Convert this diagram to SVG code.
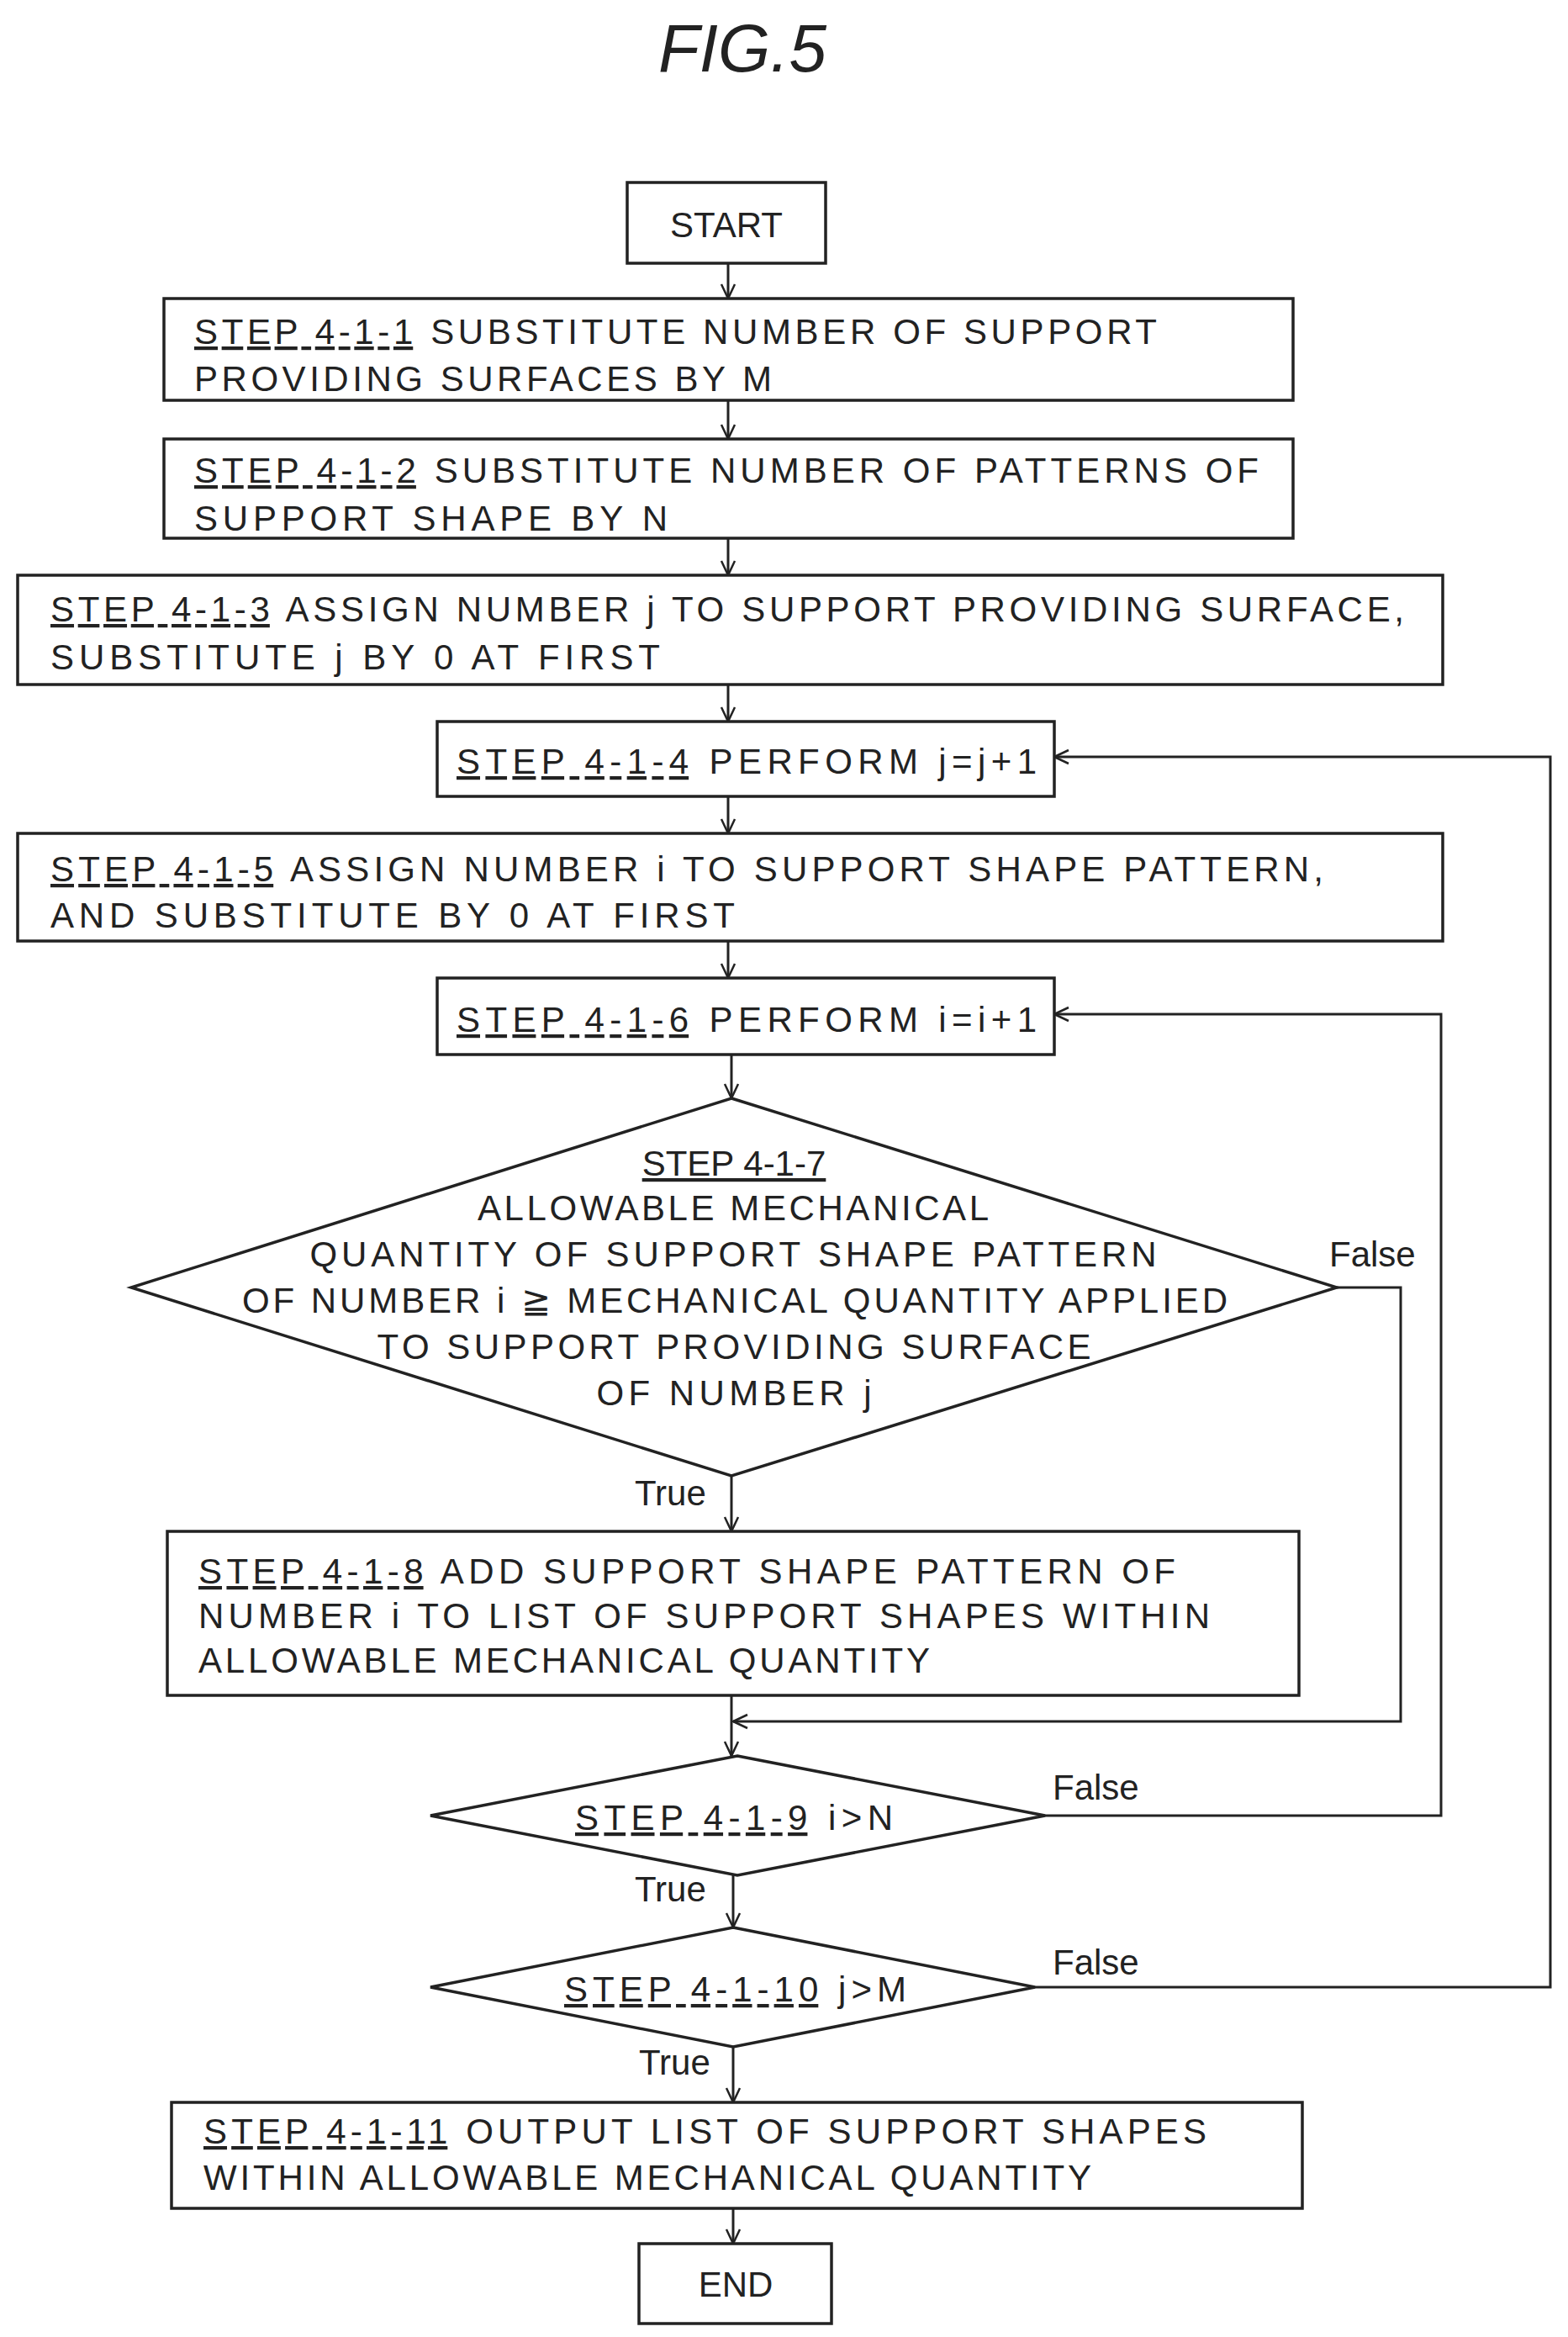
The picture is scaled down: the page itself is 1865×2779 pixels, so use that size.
<svg xmlns="http://www.w3.org/2000/svg" width="1865" height="2779" viewBox="0 0 1865 2779">
<style>
.b{fill:#fff;stroke:#222;stroke-width:3.5}
.t{font-family:"Liberation Sans",Arial,sans-serif;font-size:42px;fill:#222}
.c{text-anchor:middle}
.u{text-decoration:underline}
.l{fill:none;stroke:#222;stroke-width:3}
</style>
<defs><marker id="a" viewBox="0 0 20 20" refX="19" refY="10" markerWidth="20" markerHeight="20" markerUnits="userSpaceOnUse" orient="auto"><path d="M2,2 L19,10 L2,18" fill="none" stroke="#222" stroke-width="2.5"/></marker></defs>
<rect width="1865" height="2779" fill="#fff"/>
<text x="883" y="85" class="t c" style="font-size:80px;font-style:italic">FIG.5</text>
<g id="connectors" class="l" marker-end="url(#a)">
<line x1="866" y1="313" x2="866" y2="355"/>
<line x1="866" y1="476" x2="866" y2="522"/>
<line x1="866" y1="640" x2="866" y2="684"/>
<line x1="866" y1="814" x2="866" y2="858"/>
<line x1="866" y1="947" x2="866" y2="991"/>
<line x1="866" y1="1119" x2="866" y2="1163"/>
<line x1="870" y1="1254" x2="870" y2="1306"/>
<line x1="870" y1="1755" x2="870" y2="1821"/>
<line x1="870" y1="2016" x2="870" y2="2088"/>
<line x1="872" y1="2230" x2="872" y2="2292"/>
<line x1="872" y1="2434" x2="872" y2="2500"/>
<line x1="872" y1="2626" x2="872" y2="2668"/>
<polyline points="1590,1531 1666,1531 1666,2047 872,2047"/>
<polyline points="1243,2159 1714,2159 1714,1206 1254,1206"/>
<polyline points="1231,2363 1844,2363 1844,900 1254,900"/>
</g>
<g id="start"><rect class="b" x="746" y="217" width="236" height="96"/><text class="t c" x="864" y="282">START</text></g>
<g id="s1"><rect class="b" x="195" y="355" width="1343" height="121"/>
<text class="t" x="231" y="409" textLength="1145" lengthAdjust="spacing"><tspan class="u">STEP 4-1-1</tspan> SUBSTITUTE NUMBER OF SUPPORT</text>
<text class="t" x="231" y="465" textLength="687" lengthAdjust="spacing">PROVIDING SURFACES BY M</text></g>
<g id="s2"><rect class="b" x="195" y="522" width="1343" height="118"/>
<text class="t" x="231" y="574" textLength="1266" lengthAdjust="spacing"><tspan class="u">STEP 4-1-2</tspan> SUBSTITUTE NUMBER OF PATTERNS OF</text>
<text class="t" x="231" y="631" textLength="563" lengthAdjust="spacing">SUPPORT SHAPE BY N</text></g>
<g id="s3"><rect class="b" x="21" y="684" width="1695" height="130"/>
<text class="t" x="60" y="739" textLength="1610" lengthAdjust="spacing"><tspan class="u">STEP 4-1-3</tspan> ASSIGN NUMBER j TO SUPPORT PROVIDING SURFACE,</text>
<text class="t" x="60" y="796" textLength="725" lengthAdjust="spacing">SUBSTITUTE j BY 0 AT FIRST</text></g>
<g id="s4"><rect class="b" x="520" y="858" width="734" height="89"/>
<text class="t" x="543" y="920" textLength="690" lengthAdjust="spacing"><tspan class="u">STEP 4-1-4</tspan> PERFORM j=j+1</text></g>
<g id="s5"><rect class="b" x="21" y="991" width="1695" height="128"/>
<text class="t" x="60" y="1048" textLength="1514" lengthAdjust="spacing"><tspan class="u">STEP 4-1-5</tspan> ASSIGN NUMBER i TO SUPPORT SHAPE PATTERN,</text>
<text class="t" x="60" y="1103" textLength="814" lengthAdjust="spacing">AND SUBSTITUTE BY 0 AT FIRST</text></g>
<g id="s6"><rect class="b" x="520" y="1163" width="734" height="91"/>
<text class="t" x="543" y="1227" textLength="690" lengthAdjust="spacing"><tspan class="u">STEP 4-1-6</tspan> PERFORM i=i+1</text></g>
<g id="s7"><polygon class="b" points="870,1306 1590,1531 870,1755 156,1531"/>
<text class="t c u" x="873" y="1398">STEP 4-1-7</text>
<text class="t c" x="872" y="1451" textLength="608" lengthAdjust="spacing">ALLOWABLE MECHANICAL</text>
<text class="t c" x="872" y="1506" textLength="1007" lengthAdjust="spacing">QUANTITY OF SUPPORT SHAPE PATTERN</text>
<text class="t c" x="874" y="1561" textLength="1172" lengthAdjust="spacing">OF NUMBER i ≧ MECHANICAL QUANTITY APPLIED</text>
<text class="t c" x="873" y="1616" textLength="849" lengthAdjust="spacing">TO SUPPORT PROVIDING SURFACE</text>
<text class="t c" x="873" y="1671" textLength="327" lengthAdjust="spacing">OF NUMBER j</text>
<text class="t" x="1581" y="1506">False</text>
<text class="t" x="755" y="1790">True</text></g>
<g id="s8"><rect class="b" x="199" y="1821" width="1346" height="195"/>
<text class="t" x="236" y="1883" textLength="1162" lengthAdjust="spacing"><tspan class="u">STEP 4-1-8</tspan> ADD SUPPORT SHAPE PATTERN OF</text>
<text class="t" x="236" y="1936" textLength="1203" lengthAdjust="spacing">NUMBER i TO LIST OF SUPPORT SHAPES WITHIN</text>
<text class="t" x="236" y="1989" textLength="870" lengthAdjust="spacing">ALLOWABLE MECHANICAL QUANTITY</text></g>
<g id="s9"><polygon class="b" points="877,2088 1243,2159 877,2230 512,2159"/>
<text class="t" x="684" y="2176" textLength="378" lengthAdjust="spacing"><tspan class="u">STEP 4-1-9</tspan> i&gt;N</text>
<text class="t" x="1252" y="2140">False</text>
<text class="t" x="755" y="2261">True</text></g>
<g id="s10"><polygon class="b" points="872,2292 1231,2363 872,2434 512,2363"/>
<text class="t" x="671" y="2380" textLength="407" lengthAdjust="spacing"><tspan class="u">STEP 4-1-10</tspan> j&gt;M</text>
<text class="t" x="1252" y="2348">False</text>
<text class="t" x="760" y="2467">True</text></g>
<g id="s11"><rect class="b" x="204" y="2500" width="1345" height="126"/>
<text class="t" x="242" y="2549" textLength="1193" lengthAdjust="spacing"><tspan class="u">STEP 4-1-11</tspan> OUTPUT LIST OF SUPPORT SHAPES</text>
<text class="t" x="242" y="2604" textLength="1056" lengthAdjust="spacing">WITHIN ALLOWABLE MECHANICAL QUANTITY</text></g>
<g id="end"><rect class="b" x="760" y="2668" width="229" height="95"/><text class="t c" x="875" y="2731">END</text></g>
</svg>
